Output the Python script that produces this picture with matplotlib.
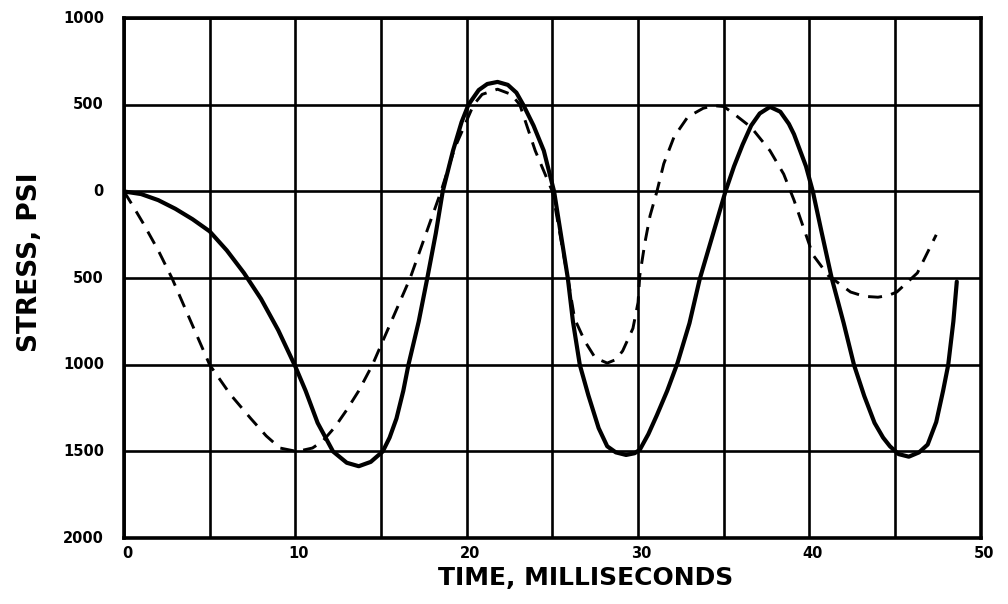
import matplotlib
matplotlib.use("Agg")
import matplotlib.pyplot as plt
from matplotlib import transforms
import numpy as np

# Solid curve readings (time ms, stress psi)
solid_t = [0, 1, 2, 3, 4, 5, 6, 7, 8, 9, 10, 10.6, 11.3, 12.2, 13.0, 13.7, 14.4, 15.1, 15.5,
           15.9, 16.3, 16.6, 17.2, 17.7, 18.2, 18.6, 19.2, 19.7, 20.1, 20.7, 21.2, 21.8, 22.4,
           22.9, 23.3, 23.9, 24.5, 25.1, 25.5, 25.9, 26.2, 26.6, 27.1, 27.7, 28.2, 28.7, 29.3,
           29.8, 30.1, 30.6, 31.1, 31.7, 32.3, 33.0, 33.6, 34.3, 35.1, 35.6, 36.1, 36.6, 37.1,
           37.7, 38.3, 38.8, 39.1, 39.8, 40.2, 40.7, 41.3, 42.0, 42.6, 43.2, 43.8, 44.3, 44.7,
           45.2, 45.8, 46.4, 46.9, 47.4, 47.8, 48.1, 48.4, 48.6]
solid_s = [0, -15, -50, -100, -160, -230, -340, -470, -620, -800, -1010, -1150, -1335, -1500,
           -1565, -1585, -1560, -1500, -1420, -1310, -1150, -1000, -750, -500, -240, 0, 235,
           400, 500, 585, 620, 632, 615, 570, 500, 380, 235, 0, -250, -500, -750, -1000, -1176,
           -1365, -1470, -1505, -1520, -1510, -1490, -1400, -1290, -1150, -990, -760, -505,
           -270, 0, 145, 270, 380, 450, 488, 460, 390, 330, 145, 0, -230, -500, -760, -1000,
           -1180, -1335, -1420, -1470, -1515, -1530, -1505, -1460, -1330, -1150, -1000, -750,
           -520]

# Dashed curve readings (time ms, stress psi)
dash_t = [0, 0.5, 1.1, 2.0, 2.8, 3.9, 5.0, 6.2, 7.4, 8.3, 9.1, 10.1, 11.0, 11.6, 12.3, 13.0,
          13.7, 14.5, 15.6, 16.7, 17.6, 18.5, 19.3, 20.4, 20.9, 21.8, 22.6, 23.1, 24.0, 25.0,
          25.9, 26.3, 26.9, 27.5, 28.2, 28.7, 29.1, 29.7, 30.0, 30.1, 30.4, 30.7, 31.1, 31.5,
          32.1, 32.9, 33.8, 34.4, 35.0, 35.5, 36.6, 37.7, 38.5, 39.1, 40.2, 41.1, 42.4, 43.2,
          44.0, 44.6, 45.1, 46.3, 47.4]
dash_s = [0, -80, -180, -340, -500, -750, -1000, -1170, -1310, -1410, -1480, -1500, -1480,
          -1440, -1360, -1260, -1150, -1000, -750, -500, -250, 0, 250, 500, 560, 590, 560,
          500, 235, 0, -500, -735, -865, -960, -990, -970, -920, -790, -640, -485, -295, -140,
          0, 160, 315, 430, 480, 495, 490, 455, 370, 235, 100, -50, -365, -485, -580, -605,
          -610, -600, -580, -470, -250]

x_ticks = [0, 10, 20, 30, 40, 50]
x_ticklabels = ["0", "10", "20", "30", "40", "50"]
y_ticks = [1000, 500, 0, -500, -1000, -1500, -2000]
y_ticklabels = ["1000", "500", "0", "500", "1000", "1500", "2000"]

fig = plt.figure(figsize=(10.08, 6.04), dpi=100)
ax = fig.add_axes([0.123, 0.109, 0.850, 0.861])

ax.plot(solid_t, solid_s, color="black", lw=3.0, solid_joinstyle="round",
        solid_capstyle="round", zorder=3)
ax.plot(dash_t, dash_s, color="black", lw=2.1, linestyle=(0, (4.8, 3.2)),
        dash_joinstyle="round", zorder=3)

ax.set_xlim(0, 50)
ax.set_ylim(-2000, 1000)
ax.set_xticks(np.arange(0, 51, 5))
ax.set_yticks(np.arange(-2000, 1001, 500))
ax.grid(True, color="black", lw=1.9)
ax.set_axisbelow(True)
for sp in ax.spines.values():
    sp.set_linewidth(2.6)
ax.tick_params(length=0, labelbottom=False, labelleft=False)

xoff = transforms.offset_copy(ax.transData, fig=fig, x=3, y=-8, units="dots")
for t, lab in zip(x_ticks, x_ticklabels):
    ax.text(t, -2000, lab, transform=xoff, ha="center", va="top",
            fontsize=10.5, fontweight="bold", clip_on=False)
yoff = transforms.offset_copy(ax.transData, fig=fig, x=-20, y=0, units="dots")
for v, lab in zip(y_ticks, y_ticklabels):
    ax.text(0, v, lab, transform=yoff, ha="right", va="center", fontsize=10.5,
            fontweight="bold", clip_on=False)

fig.text(0.581, 0.043, "TIME, MILLISECONDS", ha="center", va="center",
         fontsize=18, fontweight="bold")
fig.text(0.030, 0.565, "STRESS, PSI", ha="center", va="center", rotation=90,
         fontsize=19, fontweight="bold")

fig.savefig("out.png", dpi=100)
